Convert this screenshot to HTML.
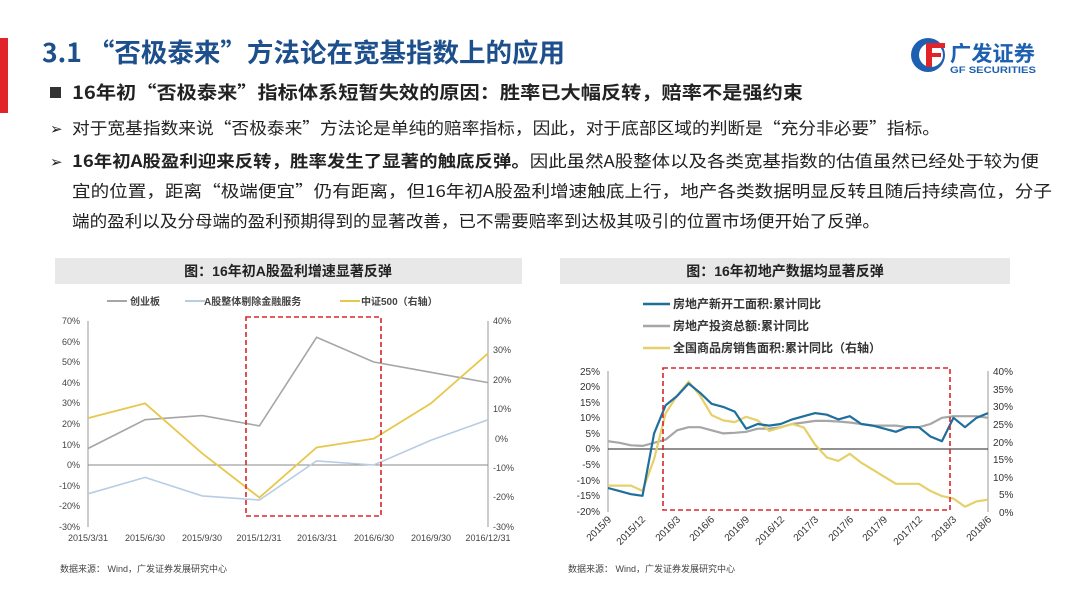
<!DOCTYPE html>
<html><head><meta charset="utf-8"><style>
body{margin:0;width:1080px;height:608px;background:#fff;overflow:hidden;font-family:"Liberation Sans","Noto Sans CJK SC",sans-serif;}
</style></head><body>
<svg width="1080" height="608" xmlns="http://www.w3.org/2000/svg" font-family="Liberation Sans, Noto Sans CJK SC, sans-serif">
<rect x="0" y="38" width="8" height="75" fill="#e0242a"/>
<g font-family="Noto Sans CJK SC, sans-serif">
<text x="42" y="62" font-size="26" font-weight="bold" fill="#1c4f8c" textLength="523" lengthAdjust="spacingAndGlyphs">3.1 “否极泰来”方法论在宽基指数上的应用</text>
<rect x="50" y="87" width="11" height="11" fill="#333"/>
<text x="72" y="99" font-size="18" font-weight="bold" fill="#222" textLength="731" lengthAdjust="spacingAndGlyphs">16年初“否极泰来”指标体系短暂失效的原因：胜率已大幅反转，赔率不是强约束</text>
<text x="50" y="134" font-size="15" fill="#222">➢</text>
<text x="72" y="134" font-size="16.5" fill="#222" textLength="868" lengthAdjust="spacingAndGlyphs">对于宽基指数来说“否极泰来”方法论是单纯的赔率指标，因此，对于底部区域的判断是“充分非必要”指标。</text>
<text x="50" y="167" font-size="15" fill="#222">➢</text>
<text x="72" y="167" font-size="16.5" fill="#222" textLength="967" lengthAdjust="spacingAndGlyphs"><tspan font-weight="bold">16年初A股盈利迎来反转，胜率发生了显著的触底反弹。</tspan>因此虽然A股整体以及各类宽基指数的估值虽然已经处于较为便</text>
<text x="72" y="197" font-size="16.5" fill="#222" textLength="980" lengthAdjust="spacingAndGlyphs">宜的位置，距离“极端便宜”仍有距离，但16年初A股盈利增速触底上行，地产各类数据明显反转且随后持续高位，分子</text>
<text x="72" y="227" font-size="16.5" fill="#222" textLength="808" lengthAdjust="spacingAndGlyphs">端的盈利以及分母端的盈利预期得到的显著改善，已不需要赔率到达极其吸引的位置市场便开始了反弹。</text>
</g>
<!-- logo -->
<g>
<circle cx="928" cy="55" r="17" fill="#1d5fb0"/><circle cx="931" cy="55" r="12" fill="#fff"/>
<rect x="926" y="43" width="19" height="5" fill="#e0242a"/><rect x="926" y="43" width="6" height="24" fill="#e0242a"/><rect x="926" y="53" width="15" height="4" fill="#e0242a"/>
<text x="950" y="61" font-size="21" font-weight="bold" fill="#1d5fb0" textLength="85" lengthAdjust="spacingAndGlyphs">广发证券</text>
<text x="950" y="73" font-size="9" font-weight="bold" fill="#1d5fb0" textLength="86" lengthAdjust="spacingAndGlyphs">GF SECURITIES</text>
</g>

<!-- Left chart -->
<rect x="55" y="258" width="467" height="26" fill="#e8e8e8"/>
<text x="288" y="276" font-size="14" font-weight="bold" fill="#222" text-anchor="middle">图：16年初A股盈利增速显著反弹</text>
<g font-size="10" font-weight="bold" fill="#444">
<line x1="107" y1="301" x2="127" y2="301" stroke="#a6a6a6" stroke-width="2"/><text x="130" y="305">创业板</text>
<line x1="185" y1="301" x2="205" y2="301" stroke="#b8cce4" stroke-width="2"/><text x="204" y="305">A股整体剔除金融服务</text>
<line x1="340" y1="301" x2="360" y2="301" stroke="#e6c84c" stroke-width="2"/><text x="361" y="305">中证500（右轴）</text>
</g>
<g stroke="#999" stroke-width="1">
<line x1="88" y1="321" x2="88" y2="527"/><line x1="488" y1="321" x2="488" y2="527"/>
<line x1="88" y1="465" x2="488" y2="465" stroke="#888"/>
</g>
<g font-size="9" fill="#444" text-anchor="end">
<text x="80" y="324">70%</text><text x="80" y="345">60%</text><text x="80" y="365">50%</text><text x="80" y="386">40%</text><text x="80" y="406">30%</text><text x="80" y="427">20%</text><text x="80" y="448">10%</text><text x="80" y="468">0%</text><text x="80" y="489">-10%</text><text x="80" y="509">-20%</text><text x="80" y="530">-30%</text>
</g>
<g font-size="9" fill="#444">
<text x="493" y="324">40%</text><text x="493" y="353">30%</text><text x="493" y="383">20%</text><text x="493" y="412">10%</text><text x="495" y="442">0%</text><text x="493" y="471">-10%</text><text x="493" y="500">-20%</text><text x="493" y="530">-30%</text>
</g>
<g font-size="9" fill="#444" text-anchor="middle">
<text x="88" y="541">2015/3/31</text><text x="145" y="541">2015/6/30</text><text x="202" y="541">2015/9/30</text><text x="259" y="541">2015/12/31</text><text x="317" y="541">2016/3/31</text><text x="374" y="541">2016/6/30</text><text x="431" y="541">2016/9/30</text><text x="488" y="541">2016/12/31</text>
</g>
<g fill="none" stroke-width="1.6">
<polyline stroke="#a6a6a6" points="88,448.5 145.1,419.7 202.3,415.6 259.4,425.9 316.6,337.3 373.7,362 430.9,372.3 488,382.6"/>
<polyline stroke="#b8cce4" points="88,493.8 145.1,477.4 202.3,495.9 259.4,500 316.6,460.9 373.7,465 430.9,440.3 488,419.7"/>
<polyline stroke="#e6c84c" stroke-width="1.8" points="88,418.1 145.1,403.4 202.3,453.4 259.4,497.6 316.6,447.5 373.7,438.7 430.9,403.4 488,353.4"/>
</g>
<rect x="246" y="317" width="135" height="199" fill="none" stroke="#d9262c" stroke-width="1.6" stroke-dasharray="5,3"/>
<text x="60" y="572" font-size="9" fill="#444">数据来源： Wind，广发证券发展研究中心</text>

<!-- Right chart -->
<rect x="560" y="258" width="450" height="26" fill="#e8e8e8"/>
<text x="785" y="276" font-size="14" font-weight="bold" fill="#222" text-anchor="middle">图：16年初地产数据均显著反弹</text>
<g font-size="12" font-weight="bold" fill="#333">
<line x1="643" y1="304" x2="670" y2="304" stroke="#1f6e9e" stroke-width="2.5"/><text x="673" y="308">房地产新开工面积:累计同比</text>
<line x1="643" y1="326" x2="670" y2="326" stroke="#a6a6a6" stroke-width="2.5"/><text x="673" y="330">房地产投资总额:累计同比</text>
<line x1="643" y1="348" x2="670" y2="348" stroke="#e6d06a" stroke-width="2.5"/><text x="673" y="352">全国商品房销售面积:累计同比（右轴）</text>
</g>
<g stroke="#999" stroke-width="1">
<line x1="608" y1="371" x2="608" y2="512"/><line x1="988" y1="371" x2="988" y2="512"/>
<line x1="608" y1="449" x2="988" y2="449" stroke="#222"/>
</g>
<g font-size="10" fill="#333" text-anchor="end">
<text x="600" y="375">25%</text><text x="600" y="390">20%</text><text x="600" y="406">15%</text><text x="600" y="421">10%</text><text x="600" y="437">5%</text><text x="600" y="452">0%</text><text x="600" y="468">-5%</text><text x="600" y="484">-10%</text><text x="600" y="499">-15%</text><text x="600" y="515">-20%</text>
</g>
<g font-size="10" fill="#333">
<text x="993" y="375">40%</text><text x="993" y="393">35%</text><text x="993" y="410">30%</text><text x="993" y="428">25%</text><text x="993" y="446">20%</text><text x="993" y="463">15%</text><text x="993" y="481">10%</text><text x="999" y="498">5%</text><text x="999" y="516">0%</text>
</g>
<g font-size="10" fill="#333" text-anchor="end">
<text transform="translate(612,520) rotate(-45)">2015/9</text><text transform="translate(646,520) rotate(-45)">2015/12</text><text transform="translate(681,520) rotate(-45)">2016/3</text><text transform="translate(715,520) rotate(-45)">2016/6</text><text transform="translate(750,520) rotate(-45)">2016/9</text><text transform="translate(785,520) rotate(-45)">2016/12</text><text transform="translate(819,520) rotate(-45)">2017/3</text><text transform="translate(854,520) rotate(-45)">2017/6</text><text transform="translate(888,520) rotate(-45)">2017/9</text><text transform="translate(923,520) rotate(-45)">2017/12</text><text transform="translate(957,520) rotate(-45)">2018/3</text><text transform="translate(992,520) rotate(-45)">2018/6</text>
</g>
<g fill="none" stroke-linejoin="round" stroke-width="2.2">
<polyline stroke="#a6a6a6" points="608,441.2 619.5,442.8 631,445.3 642.5,445.9 654.1,442.8 665.6,439.6 677.1,430.3 688.6,427.2 700.1,427.2 711.6,430.3 723.2,433.4 734.7,432.8 746.2,431.8 757.7,428.7 769.2,428.7 780.7,427.2 792.2,424 803.8,422.5 815.3,420.9 826.8,420.9 838.3,421.5 849.8,422.5 861.3,424 872.8,425.6 884.4,425.6 895.9,425.6 907.4,427.2 918.9,427.2 930.4,424 941.9,417.8 953.5,416.2 965,416.2 976.5,416.2 988,417.8"/>
<polyline stroke="#e6d06a" points="608,485.6 619.5,485.6 631,485.6 642.5,490.9 654.1,459.1 665.6,413.3 677.1,395.7 688.6,381.6 700.1,395.7 711.6,415.1 723.2,420.4 734.7,422.1 746.2,416.8 757.7,420.4 769.2,430.9 780.7,427.4 792.2,423.9 803.8,427.4 815.3,445 826.8,457.4 838.3,460.9 849.8,453.8 861.3,462.7 872.8,469.7 884.4,476.8 895.9,483.8 907.4,483.8 918.9,483.8 930.4,490.9 941.9,496.1 953.5,498.6 965,506.7 976.5,501.4 988,499.7"/>
<polyline stroke="#1f6e9e" points="608,488 619.5,491.1 631,494.2 642.5,495.8 654.1,433.4 665.6,405.3 677.1,396 688.6,383.5 700.1,392.8 711.6,403.8 723.2,406.9 734.7,411.6 746.2,428.7 757.7,424 769.2,425.6 780.7,424 792.2,419.4 803.8,416.2 815.3,413.1 826.8,414.7 838.3,419.4 849.8,416.2 861.3,424 872.8,425.6 884.4,428.7 895.9,431.8 907.4,427.2 918.9,427.2 930.4,436.5 941.9,441.2 953.5,417.8 965,427.2 976.5,417.8 988,413.1"/>
</g>
<rect x="663" y="368" width="287" height="142" fill="none" stroke="#d9262c" stroke-width="1.6" stroke-dasharray="5,3"/>
<text x="568" y="572" font-size="9" fill="#444">数据来源： Wind，广发证券发展研究中心</text>
</svg>
</body></html>
